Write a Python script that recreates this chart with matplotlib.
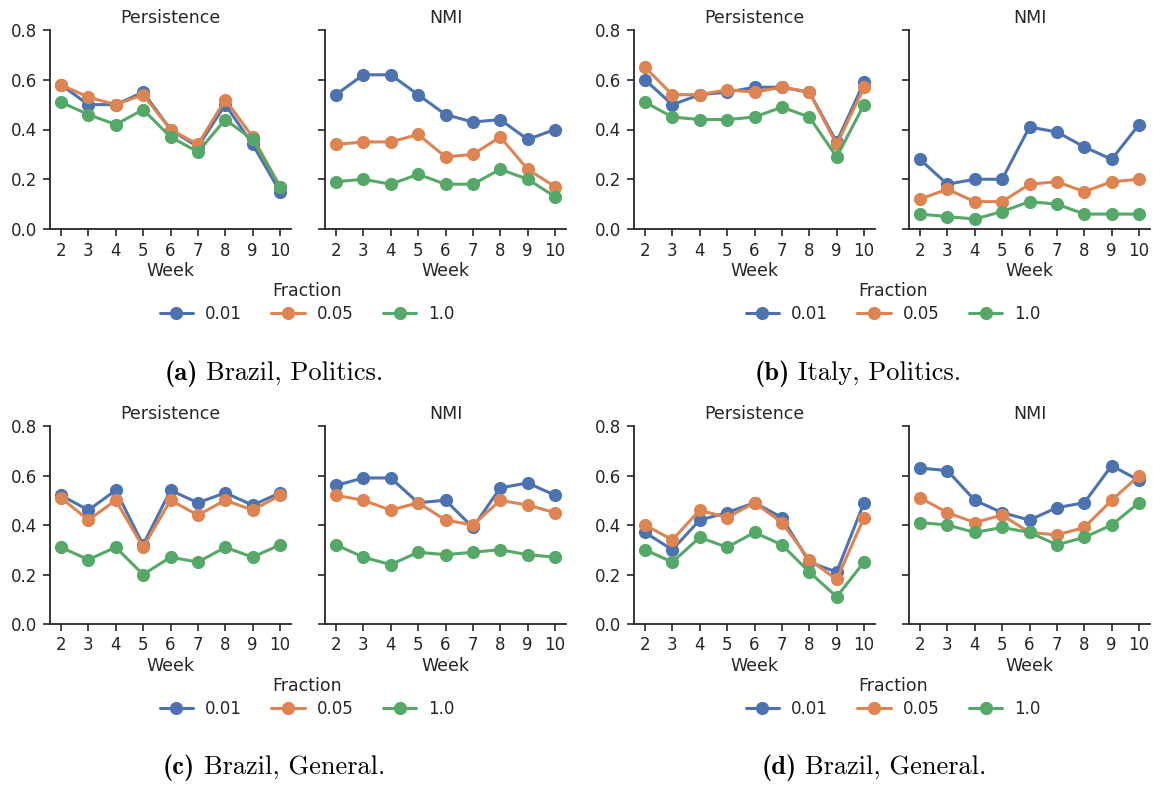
import matplotlib
matplotlib.use("Agg")
import matplotlib.pyplot as plt
import seaborn as sns
from matplotlib.lines import Line2D
from matplotlib.offsetbox import TextArea, HPacker, AnnotationBbox

sns.set_theme(style="ticks")
plt.rcParams['font.family'] = ['DejaVu Sans']

weeks = [2, 3, 4, 5, 6, 7, 8, 9, 10]
fractions = ["0.01", "0.05", "1.0"]
colors = ["#4C72B0", "#DD8452", "#55A868"]

# (a) Brazil, Politics
a_pers_001 = [0.58, 0.50, 0.50, 0.55, 0.40, 0.33, 0.50, 0.34, 0.15]
a_pers_005 = [0.58, 0.53, 0.50, 0.54, 0.40, 0.34, 0.52, 0.37, 0.17]
a_pers_100 = [0.51, 0.46, 0.42, 0.48, 0.37, 0.31, 0.44, 0.36, 0.17]
a_nmi_001 = [0.54, 0.62, 0.62, 0.54, 0.46, 0.43, 0.44, 0.36, 0.40]
a_nmi_005 = [0.34, 0.35, 0.35, 0.38, 0.29, 0.30, 0.37, 0.24, 0.17]
a_nmi_100 = [0.19, 0.20, 0.18, 0.22, 0.18, 0.18, 0.24, 0.20, 0.13]

# (b) Italy, Politics
b_pers_001 = [0.60, 0.50, 0.54, 0.55, 0.57, 0.57, 0.55, 0.35, 0.59]
b_pers_005 = [0.65, 0.54, 0.54, 0.56, 0.55, 0.57, 0.55, 0.34, 0.57]
b_pers_100 = [0.51, 0.45, 0.44, 0.44, 0.45, 0.49, 0.45, 0.29, 0.50]
b_nmi_001 = [0.28, 0.18, 0.20, 0.20, 0.41, 0.39, 0.33, 0.28, 0.42]
b_nmi_005 = [0.12, 0.16, 0.11, 0.11, 0.18, 0.19, 0.15, 0.19, 0.20]
b_nmi_100 = [0.06, 0.05, 0.04, 0.07, 0.11, 0.10, 0.06, 0.06, 0.06]

# (c) Brazil, General
c_pers_001 = [0.52, 0.46, 0.54, 0.32, 0.54, 0.49, 0.53, 0.48, 0.53]
c_pers_005 = [0.51, 0.42, 0.50, 0.31, 0.50, 0.44, 0.50, 0.46, 0.52]
c_pers_100 = [0.31, 0.26, 0.31, 0.20, 0.27, 0.25, 0.31, 0.27, 0.32]
c_nmi_001 = [0.56, 0.59, 0.59, 0.49, 0.50, 0.39, 0.55, 0.57, 0.52]
c_nmi_005 = [0.52, 0.50, 0.46, 0.49, 0.42, 0.40, 0.50, 0.48, 0.45]
c_nmi_100 = [0.32, 0.27, 0.24, 0.29, 0.28, 0.29, 0.30, 0.28, 0.27]

# (d) Brazil, General
d_pers_001 = [0.37, 0.30, 0.42, 0.45, 0.49, 0.43, 0.25, 0.21, 0.49]
d_pers_005 = [0.40, 0.34, 0.46, 0.43, 0.49, 0.41, 0.26, 0.18, 0.43]
d_pers_100 = [0.30, 0.25, 0.35, 0.31, 0.37, 0.32, 0.21, 0.11, 0.25]
d_nmi_001 = [0.63, 0.62, 0.50, 0.45, 0.42, 0.47, 0.49, 0.64, 0.58]
d_nmi_005 = [0.51, 0.45, 0.41, 0.44, 0.37, 0.36, 0.39, 0.50, 0.60]
d_nmi_100 = [0.41, 0.40, 0.37, 0.39, 0.37, 0.32, 0.35, 0.40, 0.49]

cap_tags = ["(a)", "(b)", "(c)", "(d)"]
cap_texts = ["Brazil, Politics.", "Italy, Politics.", "Brazil, General.", "Brazil, General."]

panels = [
    ([a_pers_001, a_pers_005, a_pers_100], [a_nmi_001, a_nmi_005, a_nmi_100]),
    ([b_pers_001, b_pers_005, b_pers_100], [b_nmi_001, b_nmi_005, b_nmi_100]),
    ([c_pers_001, c_pers_005, c_pers_100], [c_nmi_001, c_nmi_005, c_nmi_100]),
    ([d_pers_001, d_pers_005, d_pers_100], [d_nmi_001, d_nmi_005, d_nmi_100]),
]

W, H = 1153, 785
fig = plt.figure(figsize=(W / 100, H / 100), dpi=100)

# pixel geometry
lefts = [(50, 325), (634, 909), (50, 325), (634, 909)]
tops = [30, 30, 426, 426]
bottoms = [229, 229, 624, 624]
axw = 241
legend_cx = [307, 893, 307, 893]
legend_top = [270, 270, 665, 665]
cap_cx = [274, 858, 274, 874]
cap_y = [374, 374, 768, 768]

fs_tick = 12
fs_lab = 12.5
dark = "#262626"

def style_ax(ax):
    ax.set_xlim(1.6, 10.4)
    ax.set_ylim(0, 0.8)
    ax.set_xticks(weeks)
    ax.set_yticks([0.0, 0.2, 0.4, 0.6, 0.8])
    ax.tick_params(labelsize=fs_tick, length=5, width=1.2, colors=dark, pad=4)
    for s in ["top", "right"]:
        ax.spines[s].set_visible(False)
    for s in ["left", "bottom"]:
        ax.spines[s].set_linewidth(1.3)
        ax.spines[s].set_color(dark)
    ax.set_xlabel("Week", fontsize=fs_lab, color=dark, labelpad=2)

for i, (pers, nmi) in enumerate(panels):
    for j, (data, title) in enumerate([(pers, "Persistence"), (nmi, "NMI")]):
        l = lefts[i][j]
        ax = fig.add_axes([l / W, 1 - bottoms[i] / H, axw / W, (bottoms[i] - tops[i]) / H])
        for k, ser in enumerate(data):
            ax.plot(weeks, ser, color=colors[k], lw=2.2, marker="o", ms=9.5,
                    markeredgewidth=0, zorder=3)
        style_ax(ax)
        ax.set_title(title, fontsize=fs_lab, color=dark, pad=5)
        if j == 1:
            ax.set_yticklabels([])
    handles = [Line2D([], [], color=colors[k], lw=2.2, marker="o", ms=9.5,
                      markeredgewidth=0) for k in range(3)]
    leg = fig.legend(handles, fractions, title="Fraction", ncol=3,
                     loc="upper center",
                     bbox_to_anchor=(legend_cx[i] / W, 1 - legend_top[i] / H),
                     frameon=False, fontsize=fs_tick, title_fontsize=fs_lab,
                     handlelength=2.0, columnspacing=1.8, handletextpad=0.7,
                     borderpad=0.2, labelspacing=0.3)
    for t in leg.get_texts():
        t.set_color(dark)
    leg.get_title().set_color(dark)

    tag = TextArea(cap_tags[i], textprops=dict(family="cmb10", size=19, color="black"))
    txt = TextArea(cap_texts[i], textprops=dict(family="cmr10", size=19, color="black"))
    box = HPacker(children=[tag, txt], align="baseline", pad=0, sep=6)
    ab = AnnotationBbox(box, (cap_cx[i] / W, 1 - cap_y[i] / H), xycoords="figure fraction",
                        box_alignment=(0.5, 0.5), frameon=False, pad=0)
    fig.add_artist(ab)

fig.savefig("out.png", dpi=100)
